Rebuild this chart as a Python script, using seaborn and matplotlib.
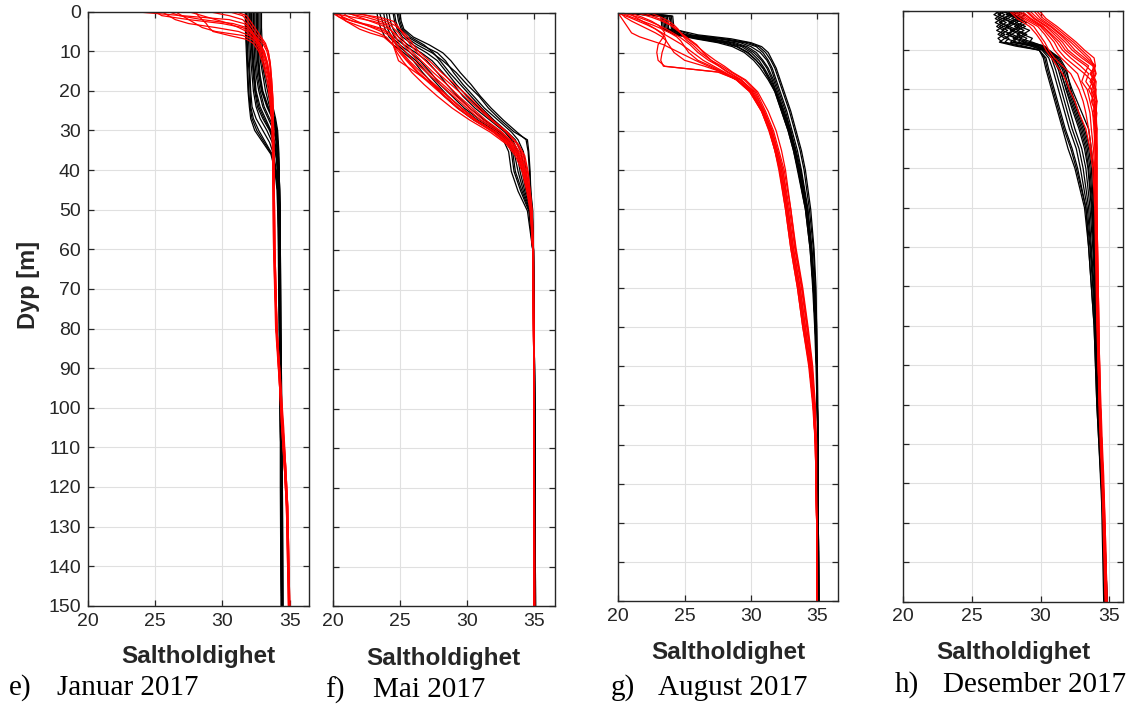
import matplotlib
matplotlib.use("Agg")
import matplotlib.pyplot as plt
import pandas as pd
import seaborn as sns

# ---------------------------------------------------------------------------
# CTD salinity profiles (depth in m, salinity) for four survey months.
# Black = one station group, red = the other; one list per cast.
# ---------------------------------------------------------------------------

# e) Januar 2017
jan_depth_black = [0, 4, 8, 12, 16, 20, 24, 27, 30, 33, 36, 40, 45, 50, 60, 80, 100, 120, 150]
jan_black = [
    [31.7, 31.7, 31.75, 31.8, 31.85, 31.9, 32.0, 32.1, 32.4, 33.0, 33.6, 33.9, 34.05, 34.1, 34.15, 34.2, 34.3, 34.3, 34.35],
    [31.9, 31.9, 31.95, 32.0, 32.05, 32.1, 32.2, 32.5, 33.0, 33.5, 33.8, 34.0, 34.1, 34.15, 34.2, 34.25, 34.3, 34.35, 34.4],
    [32.1, 32.1, 32.15, 32.2, 32.3, 32.4, 32.6, 33.0, 33.5, 33.8, 34.0, 34.1, 34.15, 34.2, 34.2, 34.25, 34.3, 34.35, 34.4],
    [32.3, 32.3, 32.35, 32.4, 32.5, 32.7, 33.0, 33.4, 33.8, 34.0, 34.1, 34.15, 34.2, 34.2, 34.25, 34.3, 34.35, 34.4, 34.4],
    [32.5, 32.5, 32.55, 32.6, 32.7, 32.9, 33.3, 33.7, 33.95, 34.05, 34.1, 34.2, 34.2, 34.25, 34.25, 34.3, 34.35, 34.4, 34.45],
    [32.7, 32.7, 32.75, 32.8, 33.0, 33.2, 33.5, 33.85, 34.0, 34.1, 34.15, 34.2, 34.25, 34.25, 34.3, 34.3, 34.35, 34.4, 34.45],
    [32.9, 32.9, 32.95, 33.0, 33.2, 33.5, 33.75, 33.95, 34.1, 34.15, 34.2, 34.2, 34.25, 34.3, 34.3, 34.35, 34.4, 34.45, 34.5],
    [31.8, 31.8, 31.85, 31.9, 32.0, 32.05, 32.1, 32.3, 32.7, 33.2, 33.7, 33.95, 34.1, 34.15, 34.2, 34.25, 34.3, 34.35, 34.4],
    [32.4, 32.4, 32.45, 32.5, 32.6, 32.8, 33.1, 33.5, 33.9, 34.0, 34.1, 34.15, 34.2, 34.25, 34.25, 34.3, 34.35, 34.4, 34.45],
    [32.0, 32.0, 32.05, 32.1, 32.2, 32.3, 32.5, 32.8, 33.3, 33.7, 33.95, 34.1, 34.15, 34.2, 34.25, 34.25, 34.3, 34.35, 34.4],
    [32.6, 32.6, 32.65, 32.7, 32.8, 33.0, 33.4, 33.8, 34.0, 34.1, 34.15, 34.2, 34.2, 34.25, 34.3, 34.3, 34.35, 34.4, 34.45],
    [32.2, 32.2, 32.25, 32.3, 32.4, 32.5, 32.8, 33.2, 33.6, 33.9, 34.05, 34.1, 34.15, 34.2, 34.25, 34.25, 34.3, 34.35, 34.4],
    [31.75, 31.75, 31.8, 31.85, 31.9, 31.95, 32.05, 32.2, 32.55, 33.1, 33.65, 33.95, 34.1, 34.15, 34.2, 34.25, 34.3, 34.35, 34.4],
    [32.15, 32.15, 32.2, 32.25, 32.35, 32.45, 32.7, 33.1, 33.55, 33.85, 34.0, 34.1, 34.15, 34.2, 34.25, 34.3, 34.3, 34.35, 34.4],
    [32.55, 32.55, 32.6, 32.65, 32.75, 32.95, 33.35, 33.75, 33.95, 34.1, 34.15, 34.2, 34.2, 34.25, 34.3, 34.3, 34.35, 34.4, 34.45],
    [32.8, 32.8, 32.85, 32.9, 33.1, 33.35, 33.6, 33.9, 34.05, 34.1, 34.15, 34.2, 34.25, 34.3, 34.3, 34.35, 34.4, 34.45, 34.5],
]
jan_depth_red = [0, 1, 2, 3, 4, 5, 6, 7, 8, 10, 13, 17, 22, 30, 45, 60, 80, 95, 105, 115, 125, 150]
jan_red = [
    [23.5, 27.0, 30.5, 31.6, 32.0, 32.2, 32.4, 32.6, 32.8, 33.1, 33.35, 33.5, 33.6, 33.75, 33.8, 33.85, 34.0, 34.3, 34.45, 34.65, 34.8, 34.95],
    [25.0, 25.5, 27.5, 30.0, 31.5, 32.0, 32.3, 32.5, 32.7, 33.0, 33.3, 33.5, 33.65, 33.75, 33.8, 33.85, 34.0, 34.3, 34.45, 34.6, 34.8, 34.95],
    [25.5, 26.0, 26.5, 27.5, 29.5, 31.2, 32.0, 32.4, 32.6, 32.9, 33.2, 33.45, 33.6, 33.7, 33.8, 33.85, 34.0, 34.25, 34.45, 34.6, 34.75, 34.9],
    [26.5, 27.0, 27.5, 28.0, 28.5, 29.5, 31.5, 32.2, 32.5, 32.8, 33.1, 33.4, 33.6, 33.7, 33.75, 33.8, 33.95, 34.25, 34.4, 34.6, 34.75, 34.95],
    [27.5, 28.5, 29.5, 30.5, 31.2, 31.8, 32.1, 32.4, 32.7, 33.1, 33.35, 33.55, 33.65, 33.75, 33.8, 33.85, 34.05, 34.3, 34.5, 34.65, 34.8, 34.95],
    [29.0, 30.5, 31.5, 31.8, 32.0, 32.2, 32.4, 32.7, 33.0, 33.3, 33.5, 33.6, 33.7, 33.8, 33.85, 33.9, 34.05, 34.3, 34.5, 34.7, 34.85, 35.0],
    [30.5, 31.5, 31.8, 32.0, 32.2, 32.4, 32.6, 32.9, 33.1, 33.4, 33.55, 33.65, 33.75, 33.8, 33.85, 33.9, 34.05, 34.35, 34.5, 34.7, 34.85, 35.0],
    [28.0, 28.2, 28.5, 28.8, 29.0, 29.3, 30.5, 31.8, 32.3, 32.7, 33.0, 33.3, 33.5, 33.7, 33.75, 33.8, 34.0, 34.25, 34.4, 34.6, 34.75, 34.9],
    [31.0, 31.8, 32.0, 32.2, 32.4, 32.6, 32.8, 33.0, 33.2, 33.4, 33.55, 33.65, 33.75, 33.8, 33.85, 33.9, 34.05, 34.35, 34.55, 34.7, 34.85, 35.0],
    [26.0, 26.8, 28.5, 30.8, 31.8, 32.1, 32.3, 32.5, 32.7, 33.0, 33.3, 33.5, 33.6, 33.7, 33.8, 33.85, 34.0, 34.3, 34.45, 34.65, 34.8, 34.95],
]

# f) Mai 2017
mai_depth_black = [0, 2, 4, 6, 8, 10, 12, 15, 18, 21, 24, 27, 30, 32, 35, 40, 45, 50, 60, 80, 100, 150]
mai_black = [
    [23.5, 23.7, 23.9, 24.2, 24.8, 25.5, 26.2, 27.0, 27.8, 28.6, 29.6, 30.8, 32.2, 32.9, 33.3, 33.5, 34.0, 34.6, 34.9, 35.0, 35.0, 35.05],
    [24.0, 24.1, 24.3, 24.6, 25.3, 26.2, 27.0, 27.8, 28.5, 29.3, 30.2, 31.3, 32.5, 33.1, 33.5, 33.8, 34.2, 34.7, 34.9, 35.0, 35.0, 35.05],
    [24.5, 24.6, 24.8, 25.2, 26.0, 27.0, 27.8, 28.5, 29.2, 30.0, 30.9, 31.9, 32.9, 33.4, 33.8, 34.1, 34.4, 34.8, 34.95, 35.0, 35.05, 35.05],
    [24.8, 24.9, 25.1, 25.6, 26.6, 27.8, 28.4, 29.0, 29.7, 30.5, 31.3, 32.3, 33.3, 33.8, 34.2, 34.4, 34.6, 34.85, 34.95, 35.0, 35.05, 35.1],
    [25.0, 25.1, 25.3, 26.0, 27.2, 28.2, 28.8, 29.5, 30.3, 31.0, 31.8, 32.7, 33.7, 34.4, 34.55, 34.65, 34.75, 34.9, 34.95, 35.0, 35.05, 35.1],
    [23.8, 23.9, 24.1, 24.4, 25.0, 25.8, 26.5, 27.3, 28.0, 28.9, 29.8, 31.0, 32.4, 33.0, 33.4, 33.6, 34.1, 34.65, 34.9, 35.0, 35.0, 35.05],
    [24.2, 24.3, 24.5, 24.9, 25.6, 26.6, 27.4, 28.2, 29.0, 29.7, 30.6, 31.7, 32.8, 33.3, 33.7, 33.95, 34.3, 34.75, 34.95, 35.0, 35.05, 35.05],
    [24.6, 24.7, 24.9, 25.4, 26.3, 27.4, 28.2, 29.2, 30.0, 30.9, 31.6, 32.5, 33.5, 34.5, 34.6, 34.7, 34.75, 34.85, 34.95, 35.0, 35.05, 35.1],
    [23.3, 23.4, 23.6, 23.9, 24.5, 25.3, 26.0, 26.7, 27.5, 28.3, 29.3, 30.5, 32.0, 32.7, 33.1, 33.3, 33.8, 34.5, 34.9, 35.0, 35.0, 35.05],
    [24.9, 25.0, 25.2, 25.8, 26.8, 27.5, 28.0, 28.7, 29.5, 30.3, 31.1, 32.0, 33.0, 33.6, 34.0, 34.3, 34.5, 34.8, 34.95, 35.0, 35.05, 35.1],
]
mai_depth_red = [0, 1, 2, 3, 4, 5, 6, 8, 10, 12, 15, 18, 21, 24, 27, 30, 33, 36, 40, 45, 50, 60, 80, 100, 150]
mai_red = [
    [20.0, 21.5, 23.0, 24.0, 24.3, 24.5, 24.7, 25.0, 25.5, 26.0, 27.0, 28.0, 29.0, 30.0, 31.0, 32.3, 33.3, 33.9, 34.3, 34.6, 34.8, 34.9, 34.95, 35.0, 35.0],
    [20.3, 20.8, 21.5, 22.5, 23.5, 24.2, 24.5, 24.8, 25.2, 25.7, 26.6, 27.6, 28.6, 29.6, 30.7, 32.0, 33.1, 33.8, 34.2, 34.5, 34.75, 34.9, 34.95, 35.0, 35.0],
    [20.5, 20.7, 21.0, 21.5, 22.0, 22.8, 23.8, 24.5, 25.0, 25.5, 26.3, 27.3, 28.3, 29.3, 30.5, 31.9, 33.0, 33.7, 34.2, 34.5, 34.75, 34.9, 34.95, 35.0, 35.0],
    [21.0, 22.5, 23.5, 24.3, 24.6, 24.9, 25.1, 25.5, 26.0, 26.6, 27.5, 28.5, 29.4, 30.4, 31.4, 32.6, 33.5, 34.1, 34.4, 34.65, 34.8, 34.9, 34.95, 35.0, 35.0],
    [21.5, 23.5, 24.5, 24.8, 25.0, 25.2, 25.4, 25.8, 26.3, 26.9, 27.8, 28.8, 29.8, 30.8, 31.8, 32.9, 33.7, 34.2, 34.5, 34.7, 34.85, 34.95, 35.0, 35.0, 35.05],
    [20.2, 20.5, 21.0, 21.8, 22.6, 23.4, 24.0, 24.5, 24.8, 25.2, 25.9, 26.8, 27.8, 28.9, 30.2, 31.7, 32.9, 33.6, 34.1, 34.45, 34.7, 34.9, 34.95, 35.0, 35.0],
    [22.0, 23.0, 24.0, 24.6, 25.0, 25.3, 25.6, 26.0, 26.5, 27.2, 28.1, 29.1, 30.1, 31.0, 31.9, 33.0, 33.8, 34.3, 34.55, 34.7, 34.85, 34.95, 35.0, 35.0, 35.05],
    [20.8, 21.2, 21.8, 22.5, 23.2, 23.9, 24.4, 24.7, 25.1, 25.6, 26.4, 27.4, 28.4, 29.4, 30.6, 32.1, 33.2, 33.8, 34.25, 34.55, 34.75, 34.9, 34.95, 35.0, 35.0],
    [20.0, 20.5, 21.5, 22.8, 23.8, 24.2, 24.4, 24.5, 24.7, 24.9, 26.2, 27.5, 28.6, 29.6, 30.7, 32.1, 33.2, 33.9, 34.3, 34.6, 34.8, 34.9, 34.95, 35.0, 35.0],
    [21.2, 22.0, 22.8, 23.6, 24.2, 24.6, 24.9, 25.3, 25.8, 26.3, 27.2, 28.2, 29.2, 30.2, 31.2, 32.5, 33.4, 34.0, 34.35, 34.6, 34.8, 34.9, 34.95, 35.0, 35.0],
]

# g) August 2017
aug_depth_black = [0, 0.7, 4, 5.5, 6.5, 7.5, 8.5, 10, 12, 14, 17, 20, 25, 30, 35, 40, 50, 60, 70, 80, 90, 110, 150]
aug_black = [
    [20.5, 23.3, 23.4, 24.5, 27.5, 29.5, 30.4, 30.9, 31.3, 31.6, 31.9, 32.2, 32.7, 33.1, 33.5, 33.8, 34.3, 34.6, 34.8, 34.9, 34.95, 35.05, 35.1],
    [21.0, 23.6, 23.7, 25.0, 27.0, 28.8, 29.7, 30.4, 30.9, 31.3, 31.7, 32.0, 32.5, 33.0, 33.3, 33.7, 34.2, 34.5, 34.7, 34.85, 34.95, 35.05, 35.1],
    [21.5, 23.9, 24.0, 24.8, 26.5, 28.2, 29.3, 30.0, 30.6, 31.0, 31.5, 31.9, 32.4, 32.9, 33.3, 33.6, 34.2, 34.5, 34.7, 34.85, 34.95, 35.05, 35.1],
    [22.0, 24.1, 24.2, 25.5, 28.0, 29.8, 30.6, 31.1, 31.5, 31.8, 32.1, 32.4, 32.9, 33.3, 33.7, 34.0, 34.4, 34.7, 34.85, 34.95, 35.0, 35.05, 35.1],
    [20.8, 23.2, 23.3, 24.3, 25.8, 27.5, 28.6, 29.5, 30.2, 30.7, 31.3, 31.8, 32.3, 32.8, 33.2, 33.5, 34.1, 34.45, 34.65, 34.8, 34.9, 35.05, 35.1],
    [21.2, 23.7, 23.8, 25.2, 27.8, 29.2, 30.0, 30.7, 31.2, 31.5, 31.8, 32.1, 32.6, 33.0, 33.4, 33.75, 34.25, 34.55, 34.75, 34.9, 34.95, 35.05, 35.1],
    [22.5, 24.0, 24.1, 24.9, 26.8, 28.5, 29.5, 30.2, 30.8, 31.2, 31.6, 31.9, 32.45, 32.95, 33.35, 33.65, 34.15, 34.5, 34.7, 34.85, 34.95, 35.05, 35.1],
    [20.3, 23.5, 23.6, 24.7, 26.2, 28.0, 29.0, 29.8, 30.4, 30.9, 31.4, 31.85, 32.35, 32.85, 33.25, 33.55, 34.15, 34.5, 34.7, 34.85, 34.95, 35.05, 35.1],
    [21.8, 23.8, 24.1, 26.0, 28.5, 30.0, 30.8, 31.3, 31.6, 31.9, 32.2, 32.5, 33.0, 33.4, 33.8, 34.1, 34.5, 34.75, 34.9, 34.95, 35.0, 35.05, 35.1],
    [20.6, 23.4, 23.5, 24.6, 26.0, 27.8, 28.9, 29.7, 30.4, 30.9, 31.4, 31.8, 32.3, 32.8, 33.2, 33.55, 34.1, 34.45, 34.7, 34.85, 34.95, 35.05, 35.1],
]
aug_depth_red = [0, 1, 2, 3, 4, 5, 6, 7, 8, 10, 12, 13.5, 15, 17, 20, 25, 30, 35, 40, 50, 60, 70, 80, 90, 100, 110, 130, 150]
aug_red = [
    [20.0, 20.8, 21.5, 22.2, 22.8, 23.3, 23.8, 24.3, 24.8, 25.6, 26.4, 27.2, 28.0, 29.0, 30.0, 30.9, 31.5, 31.9, 32.2, 32.7, 33.1, 33.6, 34.0, 34.4, 34.7, 34.85, 34.95, 34.95],
    [20.2, 20.5, 21.0, 21.6, 22.2, 22.8, 23.3, 23.6, 23.8, 24.2, 25.0, 26.5, 27.8, 29.2, 30.3, 31.0, 31.6, 32.0, 32.4, 32.8, 33.2, 33.7, 34.1, 34.5, 34.75, 34.9, 34.95, 34.95],
    [20.5, 21.5, 22.3, 23.0, 23.6, 24.1, 24.6, 25.0, 25.4, 26.0, 26.8, 27.6, 28.3, 29.3, 30.2, 31.0, 31.6, 32.0, 32.4, 32.9, 33.3, 33.8, 34.2, 34.55, 34.8, 34.9, 34.95, 34.95],
    [21.0, 21.8, 22.5, 23.0, 23.3, 23.5, 23.4, 23.2, 23.0, 22.9, 23.0, 23.5, 27.5, 29.0, 30.0, 30.8, 31.4, 31.8, 32.1, 32.6, 33.0, 33.5, 33.9, 34.35, 34.65, 34.85, 34.95, 34.95],
    [22.0, 22.8, 23.5, 24.0, 24.4, 24.7, 25.0, 25.4, 25.8, 26.5, 27.3, 28.0, 28.6, 29.6, 30.5, 31.3, 31.9, 32.3, 32.6, 33.0, 33.4, 33.9, 34.3, 34.65, 34.85, 34.95, 34.95, 35.0],
    [20.8, 21.3, 21.8, 22.3, 22.8, 23.2, 23.5, 23.6, 23.5, 23.3, 23.2, 23.4, 27.6, 29.0, 30.1, 30.9, 31.5, 31.9, 32.3, 32.7, 33.1, 33.6, 34.0, 34.45, 34.7, 34.85, 34.95, 34.95],
    [21.5, 22.5, 23.3, 23.9, 24.3, 24.7, 25.1, 25.5, 25.9, 26.4, 27.0, 27.6, 28.2, 29.2, 30.1, 30.9, 31.5, 31.9, 32.3, 32.8, 33.2, 33.7, 34.1, 34.5, 34.75, 34.9, 34.95, 34.95],
    [20.3, 21.0, 21.8, 22.6, 23.3, 23.9, 24.4, 24.7, 24.9, 25.3, 26.0, 27.0, 27.9, 28.9, 29.9, 30.8, 31.35, 31.8, 32.15, 32.6, 33.0, 33.5, 33.9, 34.4, 34.7, 34.85, 34.95, 34.95],
    [22.5, 23.2, 23.8, 24.2, 24.5, 24.7, 24.9, 25.2, 25.6, 26.2, 27.0, 27.8, 28.5, 29.5, 30.4, 31.1, 31.7, 32.1, 32.5, 33.0, 33.35, 33.85, 34.25, 34.6, 34.8, 34.9, 34.95, 35.0],
    [20.0, 20.2, 20.4, 20.6, 20.8, 21.0, 21.6, 22.5, 23.4, 24.6, 25.8, 26.8, 27.8, 28.9, 29.9, 30.8, 31.4, 31.8, 32.2, 32.7, 33.1, 33.6, 34.0, 34.4, 34.7, 34.85, 34.95, 34.95],
]

# h) Desember 2017
des_depth_black = [0, 1, 2, 3, 4, 5, 6, 7, 8, 9, 10, 12, 15, 20, 25, 30, 35, 40, 50, 60, 70, 80, 90, 100, 110, 125, 150]
des_black = [
    [26.8, 27.4, 26.9, 27.5, 27.0, 27.6, 27.1, 27.7, 27.4, 28.8, 29.9, 30.4, 30.6, 31.0, 31.4, 31.8, 32.3, 32.7, 33.3, 33.6, 33.8, 33.95, 34.05, 34.15, 34.3, 34.5, 34.7],
    [27.5, 26.9, 27.6, 27.0, 27.7, 27.2, 27.9, 27.4, 28.3, 29.3, 30.1, 30.6, 30.9, 31.3, 31.7, 32.1, 32.6, 32.9, 33.4, 33.65, 33.85, 34.0, 34.1, 34.2, 34.35, 34.55, 34.75],
    [27.2, 27.9, 27.3, 28.0, 27.5, 28.1, 27.6, 28.3, 28.0, 29.6, 30.3, 30.9, 31.3, 31.7, 32.1, 32.5, 33.0, 33.3, 33.6, 33.8, 33.95, 34.05, 34.15, 34.25, 34.35, 34.55, 34.8],
    [28.2, 27.5, 28.3, 27.7, 28.4, 27.8, 28.5, 28.0, 28.8, 29.8, 30.5, 31.1, 31.6, 32.0, 32.5, 33.0, 33.4, 33.6, 33.8, 33.9, 34.05, 34.1, 34.2, 34.3, 34.4, 34.6, 34.8],
    [27.8, 28.5, 27.9, 28.7, 28.1, 28.8, 28.3, 29.0, 28.7, 30.1, 30.6, 31.3, 31.8, 32.3, 32.9, 33.5, 33.7, 33.85, 33.95, 34.05, 34.15, 34.2, 34.25, 34.35, 34.45, 34.6, 34.85],
    [27.1, 26.6, 27.2, 26.7, 27.3, 26.8, 27.4, 26.9, 27.2, 28.5, 29.9, 30.3, 30.5, 30.9, 31.3, 31.7, 32.2, 32.6, 33.3, 33.5, 33.7, 33.9, 34.0, 34.1, 34.25, 34.5, 34.65],
    [27.1, 27.8, 27.2, 27.9, 27.3, 28.0, 27.5, 28.2, 27.8, 29.4, 30.2, 30.8, 31.1, 31.5, 31.9, 32.3, 32.8, 33.1, 33.5, 33.7, 33.9, 34.0, 34.1, 34.2, 34.35, 34.55, 34.75],
    [28.4, 27.7, 28.5, 27.9, 28.6, 28.0, 28.8, 28.2, 29.1, 30.0, 30.45, 31.0, 31.45, 31.85, 32.3, 32.8, 33.2, 33.45, 33.7, 33.85, 34.0, 34.1, 34.15, 34.3, 34.4, 34.55, 34.8],
    [28.1, 28.9, 28.3, 29.0, 28.5, 29.2, 28.7, 29.4, 29.2, 30.3, 30.6, 31.4, 31.9, 32.2, 32.7, 33.2, 33.6, 33.8, 33.9, 34.0, 34.1, 34.15, 34.25, 34.35, 34.45, 34.6, 34.85],
    [26.6, 27.1, 26.7, 27.2, 26.8, 27.3, 26.9, 27.4, 27.0, 28.2, 29.9, 30.2, 30.4, 30.8, 31.2, 31.6, 32.0, 32.5, 33.2, 33.5, 33.7, 33.9, 34.0, 34.1, 34.25, 34.45, 34.6],
    [27.4, 28.1, 27.6, 28.3, 27.7, 28.4, 27.9, 28.6, 28.4, 29.7, 30.4, 31.0, 31.4, 31.9, 32.4, 32.9, 33.3, 33.5, 33.75, 33.9, 34.0, 34.1, 34.2, 34.3, 34.4, 34.6, 34.8],
    [28.7, 28.0, 28.8, 28.2, 28.9, 28.3, 29.0, 28.5, 29.4, 30.2, 30.5, 31.2, 31.7, 32.1, 32.6, 33.1, 33.5, 33.7, 33.85, 33.95, 34.1, 34.15, 34.2, 34.3, 34.45, 34.6, 34.85],
]
des_depth_red = [0, 2, 4, 6, 8, 10, 12, 14, 16, 18, 20, 23, 26, 30, 35, 40, 50, 60, 70, 80, 90, 100, 110, 118, 130, 150]
des_red = [
    [27.8, 28.6, 29.5, 29.9, 30.3, 30.6, 31.0, 31.6, 32.2, 32.5, 32.8, 33.1, 33.3, 33.5, 33.7, 33.9, 34.0, 34.05, 34.1, 34.15, 34.2, 34.3, 34.4, 34.5, 34.6, 34.75],
    [28.2, 29.0, 30.0, 30.5, 31.0, 31.3, 31.8, 32.5, 33.2, 33.0, 33.4, 33.6, 33.8, 33.9, 33.95, 34.0, 34.05, 34.1, 34.15, 34.2, 34.25, 34.3, 34.4, 34.5, 34.6, 34.75],
    [28.6, 29.3, 30.2, 30.8, 31.4, 31.8, 32.5, 33.3, 33.9, 33.6, 34.0, 33.7, 34.05, 34.0, 34.05, 34.05, 34.05, 34.1, 34.15, 34.2, 34.25, 34.3, 34.4, 34.5, 34.65, 34.8],
    [29.0, 29.6, 30.5, 31.2, 31.8, 32.3, 33.0, 33.8, 34.0, 33.7, 33.9, 34.1, 33.8, 34.1, 34.0, 34.1, 34.05, 34.1, 34.15, 34.2, 34.25, 34.35, 34.45, 34.55, 34.65, 34.8],
    [29.5, 30.0, 30.8, 31.5, 32.2, 32.8, 33.4, 34.0, 33.6, 34.0, 33.8, 34.1, 34.0, 34.1, 34.1, 34.1, 34.1, 34.15, 34.2, 34.25, 34.3, 34.35, 34.45, 34.55, 34.65, 34.8],
    [27.7, 28.3, 29.2, 29.7, 30.1, 30.4, 30.8, 31.2, 31.6, 31.9, 32.1, 32.5, 32.8, 33.3, 33.6, 33.8, 33.95, 34.0, 34.05, 34.1, 34.2, 34.25, 34.35, 34.45, 34.55, 34.7],
    [28.9, 29.5, 30.4, 31.0, 31.6, 32.0, 32.7, 33.5, 33.2, 33.8, 33.5, 33.9, 34.0, 33.9, 34.05, 34.0, 34.05, 34.1, 34.1, 34.15, 34.2, 34.3, 34.4, 34.5, 34.6, 34.75],
    [29.9, 30.4, 31.2, 31.9, 32.6, 33.2, 33.9, 34.0, 33.8, 34.05, 34.0, 34.1, 34.05, 34.1, 34.1, 34.1, 34.1, 34.15, 34.2, 34.25, 34.3, 34.4, 34.5, 34.6, 34.7, 34.85],
    [28.4, 29.2, 30.1, 30.7, 31.2, 31.6, 32.2, 32.9, 33.5, 33.3, 33.7, 33.8, 33.95, 34.0, 34.0, 34.05, 34.05, 34.1, 34.15, 34.2, 34.25, 34.3, 34.4, 34.5, 34.6, 34.75],
    [29.2, 29.8, 30.7, 31.4, 32.0, 32.5, 33.2, 33.9, 33.7, 33.95, 33.7, 34.0, 33.9, 34.05, 34.1, 34.05, 34.1, 34.1, 34.15, 34.2, 34.3, 34.35, 34.45, 34.55, 34.65, 34.8],
    [28.0, 28.8, 29.8, 30.3, 30.7, 31.0, 31.5, 32.1, 32.7, 32.9, 33.1, 33.4, 33.6, 33.7, 33.85, 33.95, 34.0, 34.05, 34.1, 34.15, 34.2, 34.3, 34.4, 34.5, 34.6, 34.75],
    [29.7, 30.2, 31.0, 31.7, 32.4, 33.0, 33.6, 33.9, 34.05, 33.8, 34.05, 33.9, 34.1, 34.0, 34.1, 34.1, 34.1, 34.15, 34.2, 34.25, 34.3, 34.35, 34.45, 34.55, 34.7, 34.85],
]

x_ticks = [20, 25, 30, 35]
depth_ticks = list(range(0, 151, 10))
x_label = "Saltholdighet"
y_label = "Dyp [m]"


def to_long(depths, casts, group, month):
    rows = []
    for i, sal in enumerate(casts):
        assert len(sal) == len(depths), (month, group, i, len(sal), len(depths))
        for d, s in zip(depths, sal):
            rows.append({"cast": f"{month}-{group}-{i}", "gruppe": group,
                         "depth": d, "salinity": s})
    return rows


# ---------------------------------------------------------------------------
sns.set_style("ticks")
plt.rcParams["font.family"] = ["Liberation Sans", "DejaVu Sans"]
plt.rcParams["axes.unicode_minus"] = False

W, H = 1139, 707
fig = plt.figure(figsize=(W / 100, H / 100), dpi=100)


def px_rect(x0, x1, y0, y1):
    return [x0 / W, 1 - y1 / H, (x1 - x0) / W, (y1 - y0) / H]


panels = [
    dict(month="jan", letter="e)", title="Januar 2017",
         black=(jan_depth_black, jan_black), red=(jan_depth_red, jan_red),
         xmax=36.45, box=(87.7, 309.3, 11.7, 605.7), ylabels=True,
         xlab_y=657, cap=(9, 57, 688)),
    dict(month="mai", letter="f)", title="Mai 2017",
         black=(mai_depth_black, mai_black), red=(mai_depth_red, mai_red),
         xmax=36.53, box=(332.7, 554.7, 13.3, 606.3), ylabels=False,
         xlab_y=658, cap=(325, 373, 690)),
    dict(month="aug", letter="g)", title="August 2017",
         black=(aug_depth_black, aug_black), red=(aug_depth_red, aug_red),
         xmax=36.58, box=(618.3, 838.3, 13.3, 601.3), ylabels=False,
         xlab_y=653, cap=(611, 658, 688)),
    dict(month="des", letter="h)", title="Desember 2017",
         black=(des_depth_black, des_black), red=(des_depth_red, des_red),
         xmax=35.97, box=(903.3, 1122.5, 10.7, 601.5), ylabels=False,
         xlab_y=653, cap=(895, 943, 685)),
]

frame_col = "#262626"
for p in panels:
    rows = to_long(*p["black"], "svart", p["month"]) + to_long(*p["red"], "rod", p["month"])
    df = pd.DataFrame(rows)

    ax = fig.add_axes(px_rect(*p["box"]))
    sns.lineplot(data=df, x="salinity", y="depth", hue="gruppe",
                 hue_order=["svart", "rod"],
                 palette={"svart": "#000000", "rod": "#ff0000"},
                 units="cast", estimator=None, sort=False, orient="y",
                 linewidth=0.9, legend=False, ax=ax)

    ax.set_xlim(20, p["xmax"])
    ax.set_ylim(150, 0)
    ax.set_xticks(x_ticks)
    ax.set_yticks(depth_ticks)
    ax.grid(True, color="#e0e0e0", linewidth=0.8)
    ax.set_axisbelow(True)
    ax.set_xlabel("")
    ax.set_ylabel("")
    for sp in ax.spines.values():
        sp.set_visible(True)
        sp.set_color(frame_col)
        sp.set_linewidth(1.0)
    ax.tick_params(axis="both", direction="in", length=4, width=0.9,
                   color=frame_col, labelcolor=frame_col, labelsize=14,
                   top=True, right=True, pad=5)
    if not p["ylabels"]:
        ax.set_yticklabels([])

    cx = (p["box"][0] + p["box"][1]) / 2
    fig.text(cx / W, 1 - p["xlab_y"] / H, x_label, ha="center", va="center",
             fontsize=17.5, fontweight="bold", color=frame_col)

    lx, tx, cy = p["cap"]
    fig.text(lx / W, 1 - cy / H, p["letter"], ha="left", va="center",
             fontsize=21, family=["Liberation Serif", "DejaVu Serif"], color="#000000")
    fig.text(tx / W, 1 - cy / H, p["title"], ha="left", va="center",
             fontsize=21, family=["Liberation Serif", "DejaVu Serif"], color="#000000")

fig.text(28 / W, 1 - 285 / H, y_label, rotation=90, ha="center", va="center",
         fontsize=17, fontweight="bold", color=frame_col)

fig.savefig("out.png", dpi=100)
